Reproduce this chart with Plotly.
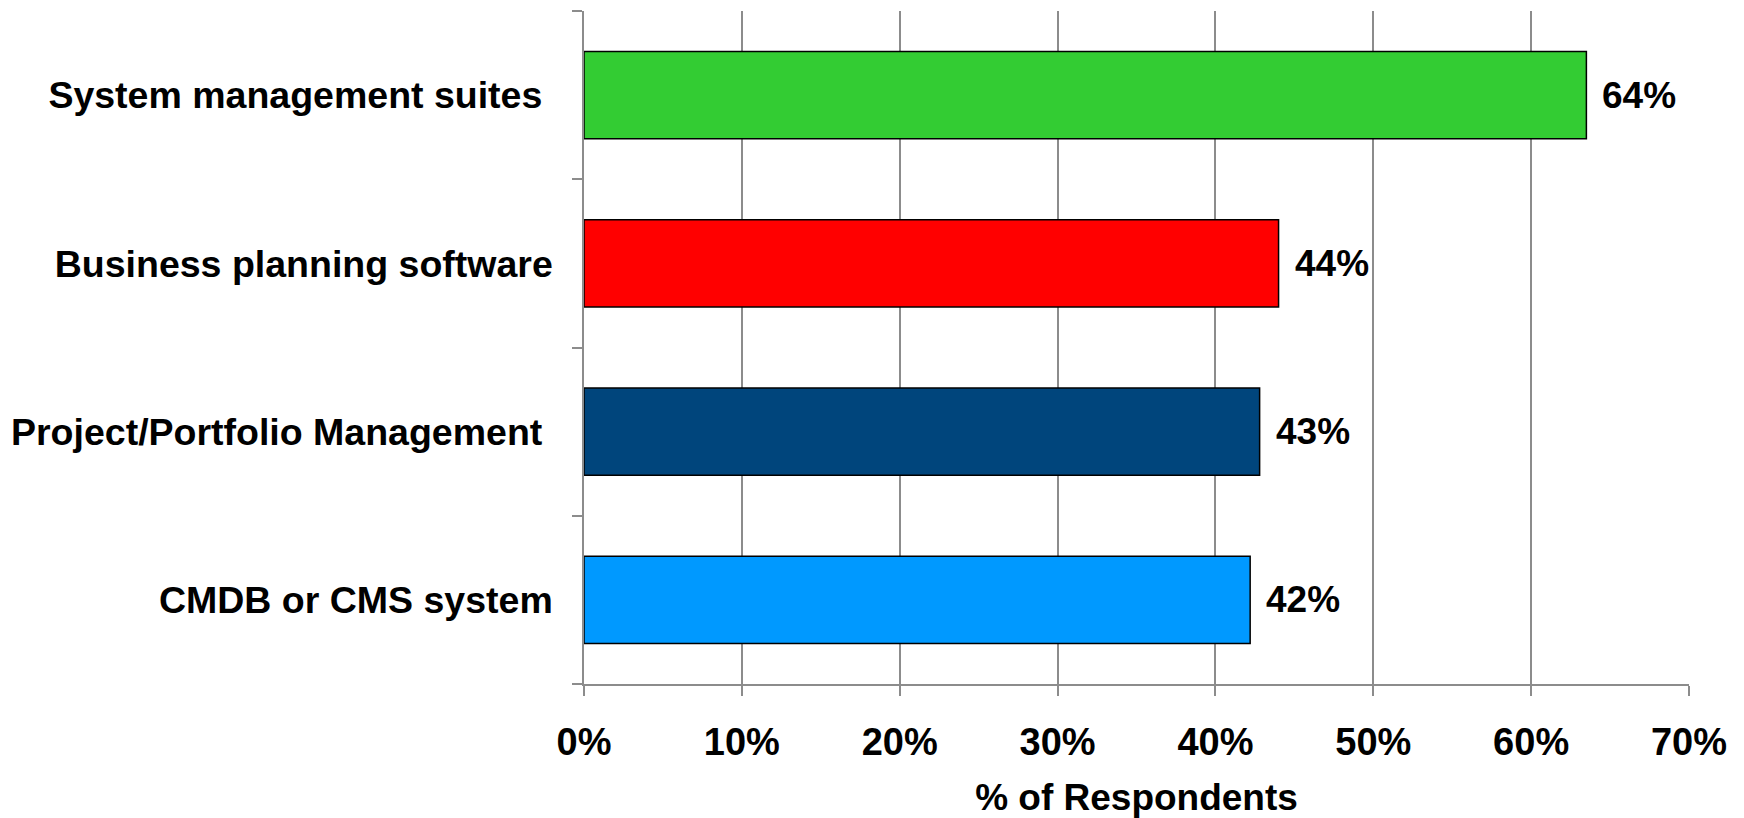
import plotly.graph_objects as go

# Survey results: share of respondents using each tool type
categories = [
    "System management suites",
    "Business planning software",
    "Project/Portfolio Management",
    "CMDB or CMS system",
]
# category labels as printed (some carry a trailing space)
category_labels = [
    "System management suites\u00a0",
    "Business planning software",
    "Project/Portfolio Management\u00a0",
    "CMDB or CMS system",
]
percent = [63.5, 44.0, 42.8, 42.2]
bar_colors = ["#33CC33", "#FF0000", "#00457C", "#0099FF"]
x_ticks = [0, 10, 20, 30, 40, 50, 60, 70]
x_tick_labels = [f"{t}%" for t in x_ticks]

FAMILY = "Liberation Sans, Arial, sans-serif"


def bold(size):
    return dict(family=FAMILY, size=size, color="black", weight="bold")


AXIS_GRAY = "#8C8C8C"

fig = go.Figure(
    go.Bar(
        x=percent,
        y=categories,
        orientation="h",
        marker=dict(color=bar_colors, line=dict(color="black", width=1.5)),
        width=0.52,
        hoverinfo="skip",
    )
)

# value labels just past the end of each bar
for cat, val in zip(categories, percent):
    fig.add_annotation(
        x=val, y=cat, text=f"{val:.0f}%", showarrow=False,
        xanchor="left", yanchor="middle", xshift=14,
        font=bold(37),
    )

fig.update_layout(
    width=1744, height=818,
    margin=dict(l=584, r=55, t=11, b=134),
    paper_bgcolor="white", plot_bgcolor="white",
    showlegend=False,
    font=bold(37),
)

fig.update_xaxes(
    range=[0, 70],
    tickmode="array", tickvals=x_ticks, ticktext=x_tick_labels,
    showgrid=True, gridcolor=AXIS_GRAY, gridwidth=1.5,
    showline=True, linecolor=AXIS_GRAY, linewidth=1.5,
    ticks="outside", ticklen=10, tickcolor=AXIS_GRAY, tickwidth=1.5,
    ticklabelstandoff=14,
    zeroline=False,
    tickfont=bold(38),
    title=dict(text="% of Respondents", font=bold(37), standoff=30),
    automargin=False,
)

fig.update_yaxes(
    autorange="reversed",
    tickmode="array", tickvals=categories, ticktext=category_labels,
    showgrid=False,
    showline=True, linecolor=AXIS_GRAY, linewidth=1.5,
    ticks="outside", tickson="boundaries", ticklen=10, tickcolor=AXIS_GRAY, tickwidth=1.5,
    ticklabelstandoff=22,
    tickfont=bold(37.5),
    automargin=False,
)

fig.write_html("out.html")
